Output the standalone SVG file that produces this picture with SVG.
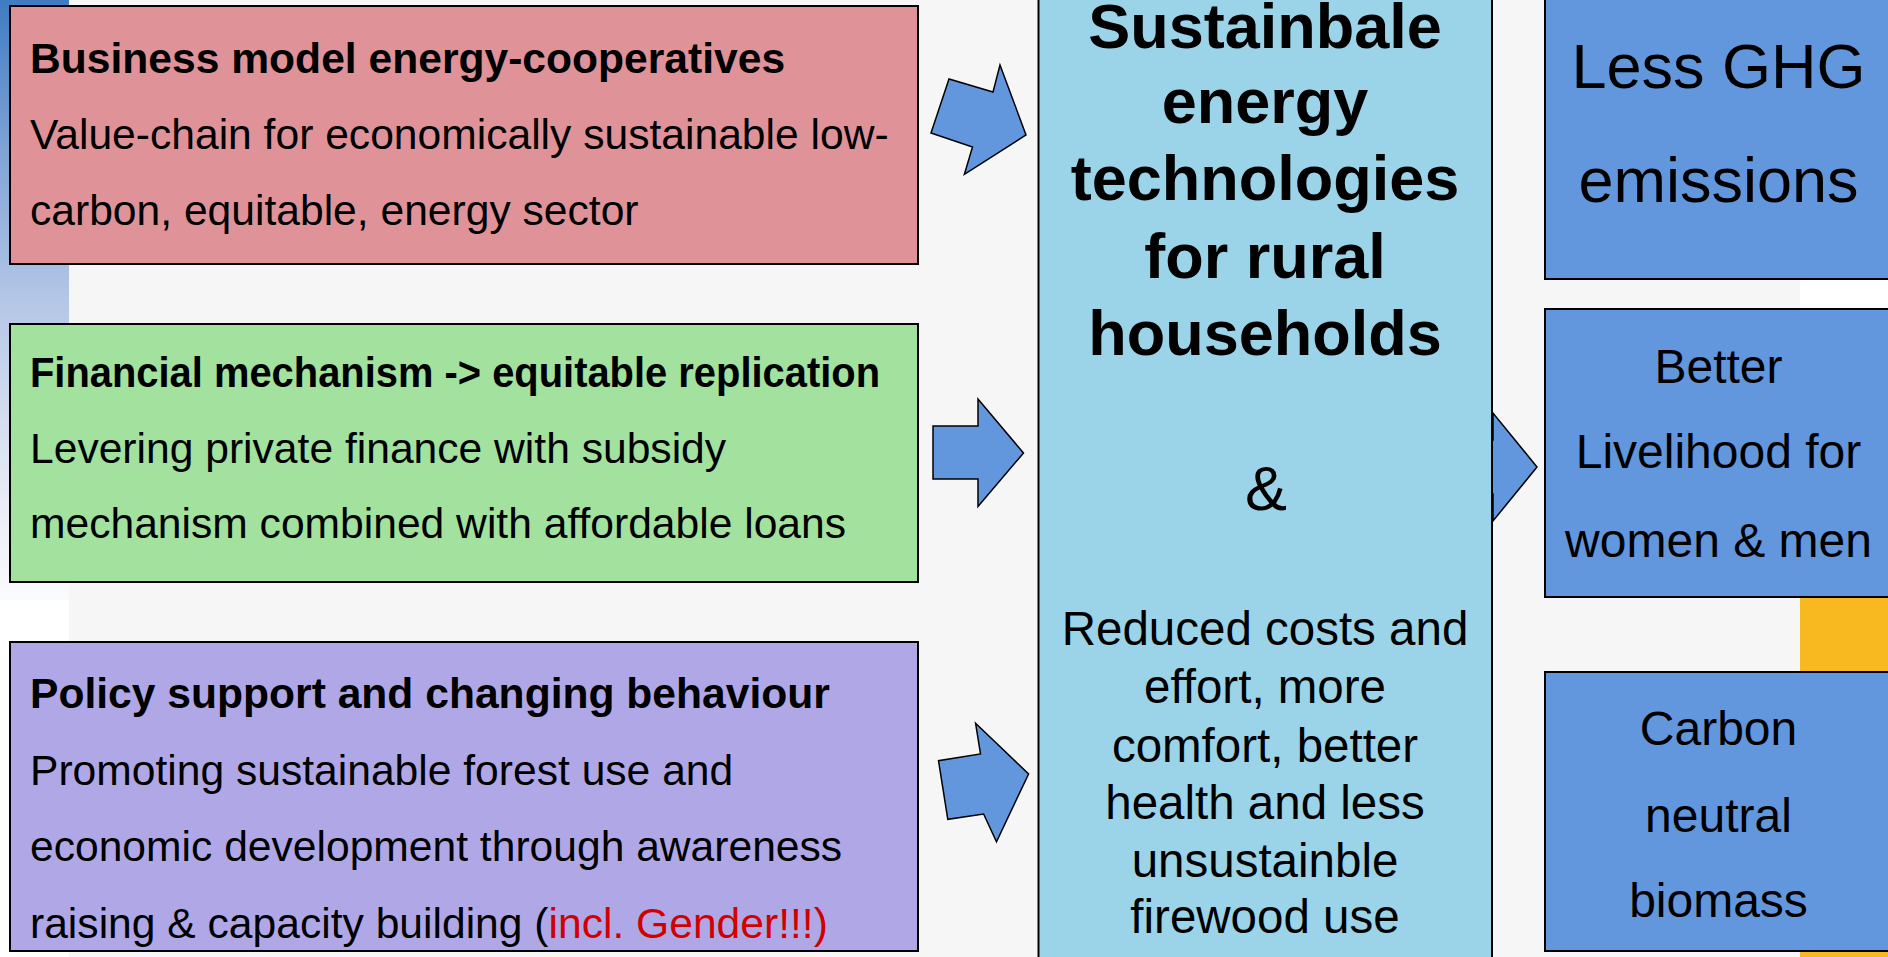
<svg xmlns="http://www.w3.org/2000/svg" width="1888" height="957" viewBox="0 0 1888 957">
<defs>
<linearGradient id="strip" x1="0" y1="0" x2="0" y2="1">
<stop offset="0" stop-color="#3f7cc2"/>
<stop offset="0.25" stop-color="#7fa3d6"/>
<stop offset="0.5" stop-color="#b4c6e6"/>
<stop offset="0.8" stop-color="#e3e9f4"/>
<stop offset="1" stop-color="#fafbfd"/>
</linearGradient>
<style>
.box{stroke:#000;stroke-width:2}
.arrow{fill:#6297de;stroke:#000;stroke-width:1.5;stroke-linejoin:miter}
.t{font-family:"Liberation Sans",Arial,sans-serif;fill:#000}
.lh{font-size:42.6px;font-weight:bold}
.lb{font-size:42.6px}
.ct{font-size:63px;font-weight:bold;text-anchor:middle}
.amp{font-size:63px;text-anchor:middle}
.cm{font-size:47.5px;text-anchor:middle}
.rb{font-size:63px;text-anchor:middle}
.rs{font-size:48px;text-anchor:middle}
</style>
</defs>
<rect x="0" y="0" width="1888" height="957" fill="#f6f6f6"/>
<rect x="0" y="0" width="69" height="957" fill="#ffffff"/>
<rect x="0" y="0" width="69" height="600" fill="url(#strip)"/>
<rect x="1800" y="270" width="88" height="330" fill="#ffffff"/>
<rect x="1800" y="595" width="88" height="362" fill="#f7b820"/>

<g id="connectors">
<polygon class="arrow" points="1000,65 993,92 949,79 931,133 972.5,147 964.4,174.3 1026,135"/>
<polygon class="arrow" points="933,426 978,426 978,399 1023.5,453 978,506.5 978,479 933,479"/>
<polygon class="arrow" points="975.6,723.3 980.5,754 938.5,760.7 947.8,819.3 983.6,814 996.5,841.7 1028.6,774"/>
<polygon class="arrow" points="1440,440 1493,440 1493,413 1537,467 1493,521 1493,494 1440,494"/>
</g>

<g id="node-business">
<rect class="box" x="10" y="6" width="908" height="258" fill="#df9399"/>
<text class="t lh" x="30" y="73">Business model energy-cooperatives</text>
<text class="t lb" x="30" y="149">Value-chain for economically sustainable low-</text>
<text class="t lb" x="30" y="225">carbon, equitable, energy sector</text>
</g>

<g id="node-financial">
<rect class="box" x="10" y="324" width="908" height="258" fill="#a3e19f"/>
<text class="t lh" x="30" y="387" textLength="850" lengthAdjust="spacingAndGlyphs">Financial mechanism -&gt; equitable replication</text>
<text class="t lb" x="30" y="463">Levering private finance with subsidy</text>
<text class="t lb" x="30" y="538">mechanism combined with affordable loans</text>
</g>

<g id="node-policy">
<rect class="box" x="10" y="642" width="908" height="309" fill="#b0a8e6"/>
<text class="t lh" x="30" y="708">Policy support and changing behaviour</text>
<text class="t lb" x="30" y="785">Promoting sustainable forest use and</text>
<text class="t lb" x="30" y="861">economic development through awareness</text>
<text class="t lb" x="30" y="938">raising &amp; capacity building (<tspan fill="#d00000">incl. Gender!!!)</tspan></text>
</g>

<g id="node-center">
<rect class="box" x="1038.5" y="-5" width="453.5" height="970" fill="#9bd4e8"/>
<text class="t ct" x="1265" y="48">Sustainbale</text>
<text class="t ct" x="1265" y="123">energy</text>
<text class="t ct" x="1265" y="200">technologies</text>
<text class="t ct" x="1265" y="278">for rural</text>
<text class="t ct" x="1265" y="355">households</text>
<text class="t amp" x="1266" y="510">&amp;</text>
<text class="t cm" x="1265" y="645">Reduced costs and</text>
<text class="t cm" x="1265" y="703">effort, more</text>
<text class="t cm" x="1265" y="762">comfort, better</text>
<text class="t cm" x="1265" y="819">health and less</text>
<text class="t cm" x="1265" y="877">unsustainble</text>
<text class="t cm" x="1265" y="933">firewood use</text>
</g>

<g id="node-ghg">
<rect class="box" x="1545" y="-5" width="350" height="284" fill="#6297de"/>
<text class="t rb" x="1718.5" y="88">Less GHG</text>
<text class="t rb" x="1718.5" y="202">emissions</text>
</g>

<g id="node-livelihood">
<rect class="box" x="1545" y="309" width="350" height="288" fill="#6297de"/>
<text class="t rs" x="1718.5" y="383">Better</text>
<text class="t rs" x="1718.5" y="468">Livelihood for</text>
<text class="t rs" x="1718.5" y="557">women &amp; men</text>
</g>

<g id="node-carbon">
<rect class="box" x="1545" y="672" width="350" height="279" fill="#6297de"/>
<text class="t rs" x="1718.5" y="745">Carbon</text>
<text class="t rs" x="1718.5" y="832">neutral</text>
<text class="t rs" x="1718.5" y="917">biomass</text>
</g>
</svg>
